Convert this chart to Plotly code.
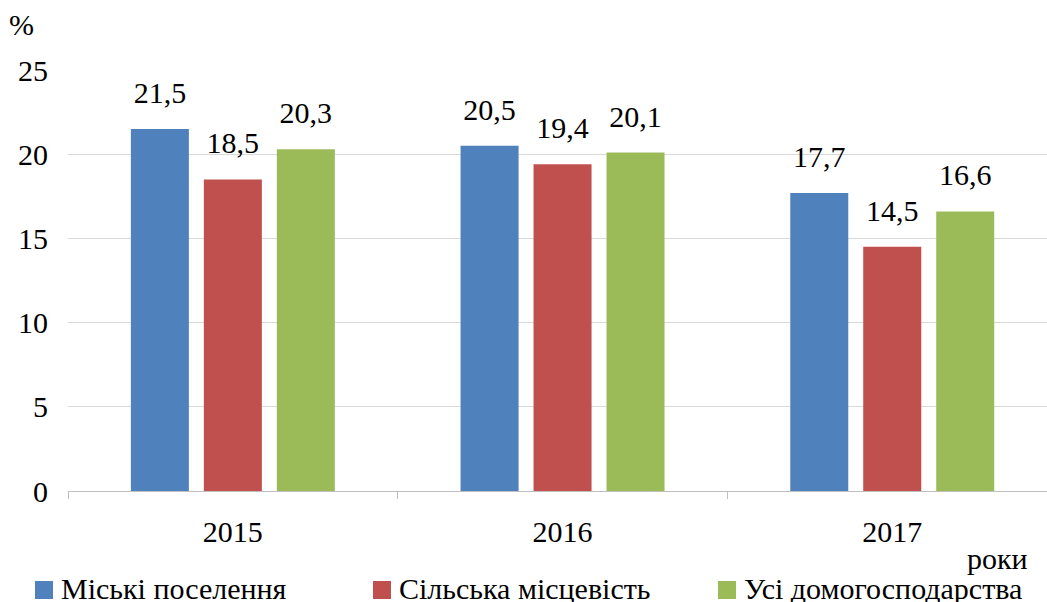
import plotly.graph_objects as go

years = ["2015", "2016", "2017"]
series_names = ["Міські поселення", "Сільська місцевість", "Усі домогосподарства"]
urban = [21.5, 20.5, 17.7]
rural = [18.5, 19.4, 14.5]
all_households = [20.3, 20.1, 16.6]
colors = ["#4F81BD", "#C0504D", "#9BBB59"]
y_ticks = [0, 5, 10, 15, 20, 25]

FONT = "Liberation Serif"
FS = 30
W, H = 1047, 602
L, R, T, B = 68, 0, 70, 111
PW, PH = W - L - R, H - T - B


def px_x(px):
    return (px - L) / PW


def px_y(py):
    return (H - B - py) / PH


fig = go.Figure()
for i, (name, vals, col) in enumerate(zip(series_names, [urban, rural, all_households], colors)):
    fig.add_trace(go.Bar(
        x=years, y=vals, name=name, marker=dict(color=col, line=dict(width=0)),
        offsetgroup=str(i), showlegend=False, hoverinfo="x+y",
    ))
    fig.add_trace(go.Scatter(
        x=years, y=vals, mode="markers+text", offsetgroup=str(i),
        marker=dict(size=28, opacity=0),
        text=[f"{v:.1f}".replace(".", ",") for v in vals],
        textposition="top center", cliponaxis=False,
        textfont=dict(family=FONT, size=FS, color="#000000"),
        showlegend=False, hoverinfo="skip",
    ))

cat_px = 329.7
right_units = -0.5 + PW / cat_px

fig.update_layout(
    width=W, height=H,
    margin=dict(l=L, r=R, t=T, b=B),
    paper_bgcolor="white", plot_bgcolor="white",
    barmode="group", bargap=0.336, bargroupgap=0.205,
    scattermode="group", scattergap=0.336,
    font=dict(family=FONT, size=FS, color="#000000"),
    xaxis=dict(
        type="category", range=[-0.5, right_units],
        showline=True, linecolor="#BFBFBF", linewidth=1,
        ticks="outside", tickson="boundaries", ticklen=7, tickcolor="#BFBFBF",
        tickfont=dict(family=FONT, size=FS, color="#000000"),
        showgrid=False, ticklabelstandoff=14,
    ),
    yaxis=dict(
        range=[0, 25], tickvals=y_ticks, showgrid=True, gridcolor="#D9D9D9",
        gridwidth=1, zeroline=False, showline=False, ticks="",
        tickfont=dict(family=FONT, size=FS, color="#000000"),
        ticklabelstandoff=19,
    ),
)

# axis titles
fig.add_annotation(text="%", x=px_x(21), y=px_y(24), xref="paper", yref="paper",
                   xanchor="center", yanchor="middle",
                   showarrow=False, font=dict(family=FONT, size=FS))
fig.add_annotation(text="роки", x=px_x(997), y=px_y(558), xref="paper", yref="paper",
                   xanchor="center", yanchor="middle",
                   showarrow=False, font=dict(family=FONT, size=FS))

# legend (manual)
legend_sq = [35, 373, 718]
for name, col, sx in zip(series_names, colors, legend_sq):
    fig.add_shape(type="rect", xref="paper", yref="paper",
                  x0=px_x(sx), x1=px_x(sx + 18), y0=px_y(599), y1=px_y(581),
                  fillcolor=col, line=dict(width=0))
    fig.add_annotation(text=name, x=px_x(sx + 24), y=px_y(588), xref="paper", yref="paper",
                       xanchor="left", yanchor="middle", showarrow=False,
                       font=dict(family=FONT, size=FS))

fig.write_html("out.html", config={"displayModeBar": False},
               post_script="document.body.style.margin='0';document.body.style.overflow='hidden';")
